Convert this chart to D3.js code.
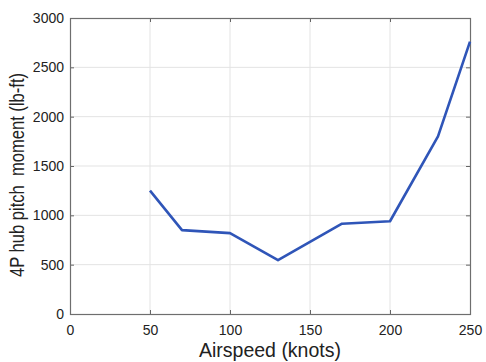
<!DOCTYPE html>
<html>
<head>
<meta charset="utf-8">
<script src="https://cdn.jsdelivr.net/npm/d3@7"></script>
<style>
  html, body { margin: 0; padding: 0; background: #fff; }
  svg { display: block; }
  text { font-family: "Liberation Sans", Arial, sans-serif; fill: #222; }
</style>
</head>
<body>
<svg id="chart" width="486" height="362"></svg>
<script>
// Hub pitch moment versus airspeed
const airspeed = [50, 70, 100, 130, 170, 200, 230, 250];
const moment = [1250, 850, 820, 545, 915, 940, 1800, 2760];
const xTicks = [0, 50, 100, 150, 200, 250];
const yTicks = [0, 500, 1000, 1500, 2000, 2500, 3000];

const W = 486, H = 362;
const margin = { left: 70, right: 16, top: 18, bottom: 48 };
const svg = d3.select("#chart");

const x = d3.scaleLinear().domain([0, 250]).range([margin.left, W - margin.right]);
const y = d3.scaleLinear().domain([0, 3000]).range([H - margin.bottom, margin.top]);

// grid
const grid = svg.append("g");
grid.selectAll(".gx").data(xTicks.slice(1, -1)).join("line")
  .attr("x1", d => x(d)).attr("x2", d => x(d))
  .attr("y1", y(0)).attr("y2", y(3000))
  .attr("stroke", "#e3e3e3").attr("stroke-width", 1);
grid.selectAll(".gy").data(yTicks.slice(1, -1)).join("line")
  .attr("y1", d => y(d)).attr("y2", d => y(d))
  .attr("x1", x(0)).attr("x2", x(250))
  .attr("stroke", "#e3e3e3").attr("stroke-width", 1);

// axes with inward ticks
const fmt = d3.format("d");
const axisStyle = g => {
  g.select(".domain").remove();
  g.selectAll(".tick line").attr("stroke", "#666");
  g.selectAll(".tick text").attr("font-size", 14).attr("fill", "#222")
    .attr("font-family", "\"Liberation Sans\", Arial, sans-serif");
};
svg.append("g").attr("transform", `translate(0,${y(0)})`)
  .call(d3.axisBottom(x).tickValues(xTicks).tickFormat(fmt).tickSizeInner(-4).tickSizeOuter(0).tickPadding(11))
  .call(axisStyle);
svg.append("g").attr("transform", `translate(0,${y(3000)})`)
  .call(d3.axisTop(x).tickValues(xTicks).tickSizeInner(-4).tickSizeOuter(0).tickFormat(""))
  .call(axisStyle);
svg.append("g").attr("transform", `translate(${x(0)},0)`)
  .call(d3.axisLeft(y).tickValues(yTicks).tickFormat(fmt).tickSizeInner(-4).tickSizeOuter(0).tickPadding(6))
  .call(axisStyle);
svg.append("g").attr("transform", `translate(${x(250)},0)`)
  .call(d3.axisRight(y).tickValues(yTicks).tickSizeInner(-4).tickSizeOuter(0).tickFormat(""))
  .call(axisStyle);

// plot box
svg.append("rect")
  .attr("x", x(0) + 0.5).attr("y", y(3000) + 0.5)
  .attr("width", x(250) - x(0)).attr("height", y(0) - y(3000))
  .attr("fill", "none").attr("stroke", "#6e6e6e").attr("stroke-width", 1.2);

// data line
svg.append("path")
  .datum(airspeed.map((a, i) => [a, moment[i]]))
  .attr("d", d3.line().x(d => x(d[0])).y(d => y(d[1])))
  .attr("fill", "none").attr("stroke", "#2f55b8").attr("stroke-width", 2.6)
  .attr("stroke-linejoin", "round");

// axis titles
svg.append("text")
  .attr("x", (x(0) + x(250)) / 2).attr("y", 357)
  .attr("text-anchor", "middle").attr("font-size", 19.5)
  .text("Airspeed (knots)");
svg.append("text")
  .attr("transform", `translate(24,175) rotate(-90) scale(0.85,1)`)
  .attr("text-anchor", "middle").attr("font-size", 19.5)
  .attr("xml:space", "preserve")
  .style("white-space", "pre")
  .text("4P hub pitch  moment (lb-ft)");
</script>
</body>
</html>
